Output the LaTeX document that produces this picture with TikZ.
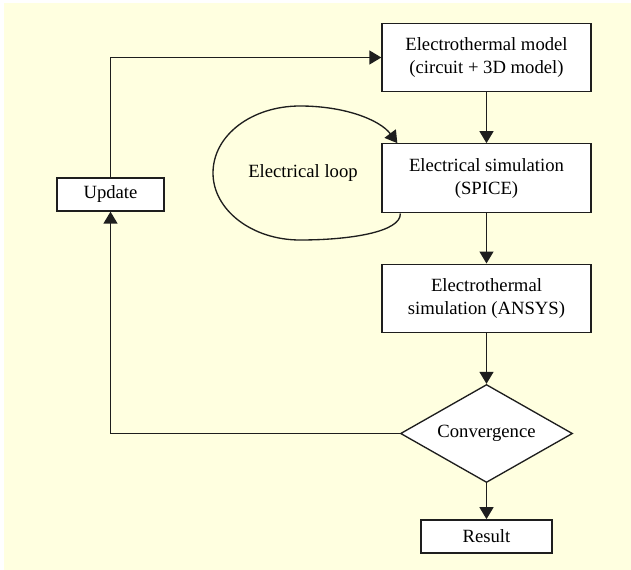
\documentclass[tikz,border=0pt]{standalone}
\usepackage{fontspec}
\setmainfont{Liberation Serif}
\usepackage{tikz}
\usetikzlibrary{arrows.meta}
\usetikzlibrary{calc,positioning}
\usetikzlibrary{shapes.geometric}
\definecolor{paleyellow}{RGB}{255,255,224}
\definecolor{linegray}{RGB}{30,30,30}

\begin{document}
\begin{tikzpicture}[x=0.75pt, y=0.75pt, font=\fontsize{14}{17.25}\selectfont,
    step box/.style = {rectangle, draw=linegray, fill=white, line width=1pt, align=center, inner sep=2pt, minimum width=156.75pt, minimum height=51pt},
    small box/.style = {step box, minimum width=#1, minimum height=24.75pt},
    decision/.style = {diamond, draw=linegray, fill=white, line width=1pt, inner sep=0pt, aspect=1.755, minimum width=129pt, minimum height=73.5pt},
    arr/.style = {-{Triangle[length=9pt,width=10.5pt]}, linegray, line width=1pt}]
      \useasboundingbox (0,0) rectangle (631,-570);
      \fill[paleyellow] (4,-3) rectangle (631,-570);

      \node [step box] (modeln) at (486.5,-57.5) {Electrothermal model\\(circuit + 3D model)};
      \node [step box, minimum height=51.75pt, below=38.25pt of modeln] (elsimn) {Electrical simulation\\(SPICE)};
      \node [step box, below=37.5pt of elsimn] (ansysn) {Electrothermal\\simulation (ANSYS)};
      \node [decision, below=38.25pt of ansysn] (convn) {Convergence};
      \node [small box=98.25pt, below=27pt of convn] (resultn) {Result};
      \node [small box=80.25pt] (updaten) at (110.5,-194.5) {Update};
      \node (loopt) at (303,-173) {Electrical loop};

      \draw[arr] (modeln) -- (elsimn);
      \draw[arr] (elsimn) -- (ansysn);
      \draw[arr] (ansysn) -- (convn);
      \draw[arr] (convn) -- (resultn);
      \draw[arr] (convn.west) -| (updaten.south);
      \draw[arr] (updaten.north) |- (modeln.west);

      \draw[arr] ([xshift=14.25pt]elsimn.south west) .. controls (401,-232) and (350,-240) .. (300,-240)
        .. controls (252,-240) and (213,-210) .. (213,-173)
        .. controls (213,-135) and (252,-106) .. (300,-106)
        .. controls (345,-106) and (380,-120) .. ([xshift=12pt]elsimn.north west);

      \end{tikzpicture}
\end{document}
